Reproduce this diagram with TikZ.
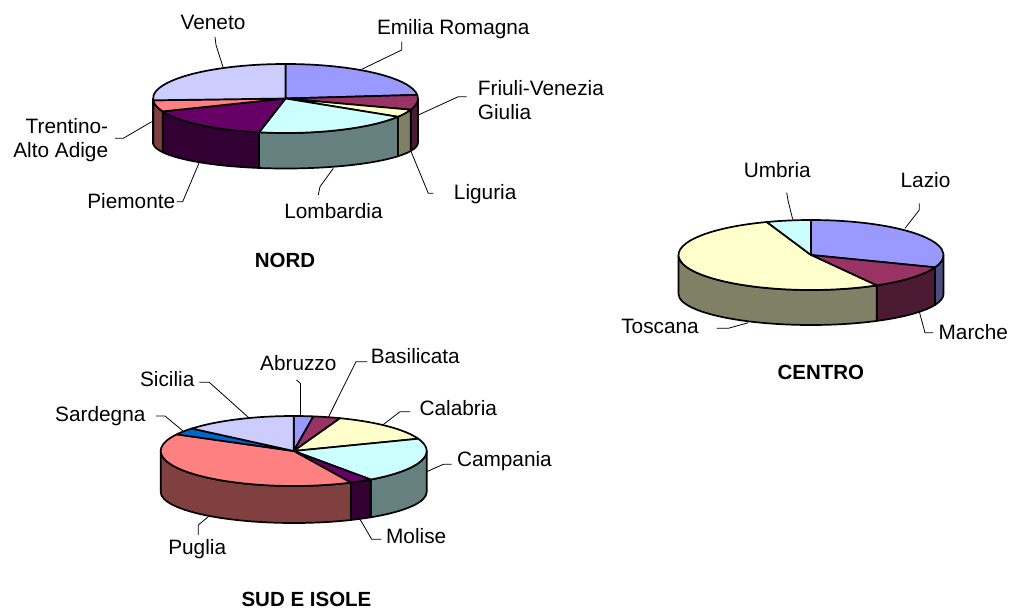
\documentclass[tikz,border=0pt]{standalone}
\usepackage{fontspec}
\setmainfont{Liberation Sans}
\usetikzlibrary{calc}
\definecolor{cA}{HTML}{9999FF}\definecolor{cAs}{HTML}{4D4D80}
\definecolor{cB}{HTML}{993366}\definecolor{cBs}{HTML}{4D1A33}
\definecolor{cC}{HTML}{FFFFCC}\definecolor{cCs}{HTML}{808066}
\definecolor{cD}{HTML}{CCFFFF}\definecolor{cDs}{HTML}{668080}
\definecolor{cE}{HTML}{660066}\definecolor{cEs}{HTML}{330033}
\definecolor{cF}{HTML}{FF8080}\definecolor{cFs}{HTML}{804040}
\definecolor{cG}{HTML}{0066CC}\definecolor{cGs}{HTML}{003366}
\definecolor{cH}{HTML}{CCCCFF}\definecolor{cHs}{HTML}{666680}
\tikzset{
  pieline/.style={draw=black,line width=1.7pt,line join=round},
  leader/.style={draw=black,line width=0.8pt},
  lbl/.style={font=\fontsize{20.8}{24.2}\selectfont,inner sep=0pt},
  ttl/.style={font=\fontsize{20.5}{24}\selectfont\bfseries,inner sep=0pt}
}
% top of a slice: angles #1..#2 (counter-clockwise), colour #3
\newcommand\pietop[3]{\filldraw[pieline,fill=#3] (0,0) -- (#1:\PRx pt and \PRy pt)
  arc[start angle=#1,end angle=#2,x radius=\PRx pt,y radius=\PRy pt] -- cycle;}
% visible side wall between angles #1..#2 (within 180..360), colour #3
\newcommand\pieside[3]{\filldraw[pieline,fill=#3] (#1:\PRx pt and \PRy pt)
  arc[start angle=#1,end angle=#2,x radius=\PRx pt,y radius=\PRy pt]
  -- ($(0pt,-\PHb pt)+(#2:\PRx pt and \PRyb pt)$)
  arc[start angle=#2,end angle=#1,x radius=\PRx pt,y radius=\PRyb pt] -- cycle;}
\begin{document}
\begin{tikzpicture}[x=1pt,y=-1pt]
\path[use as bounding box,fill=white] (0,0) rectangle (1011,610);

% ---------------- NORD ----------------
\def\PRx{132.5}\def\PRy{34.5}\def\PHb{44}\def\PRyb{26}
\begin{scope}[shift={(285.5,98.5)}]
  \pieside{341}{360}{cBs}
  \pieside{328}{341}{cCs}
  \pieside{258.5}{328}{cDs}
  \pieside{202}{258.5}{cEs}
  \pieside{183}{202}{cFs}
  \pieside{180}{183}{cHs}
  \pietop{6}{90}{cA}
  \pietop{-19}{6}{cB}
  \pietop{-32}{-19}{cC}
  \pietop{-101.5}{-32}{cD}
  \pietop{-158}{-101.5}{cE}
  \pietop{183}{202}{cF}
  \pietop{90}{183}{cH}
\end{scope}
\node[lbl,anchor=base] (veneto) at (213,29.3) {Veneto};
\node[lbl,anchor=north east,align=right] (trentino) at (108.3,117.8) {Trentino-\\Alto Adige};
\node[lbl,anchor=base] (piemonte) at (131.3,208.3) {Piemonte};
\node[lbl,anchor=base] (lombardia) at (333.5,218.3) {Lombardia};
\node[lbl,anchor=base] (emilia) at (453.3,35) {Emilia Romagna};
\node[lbl,anchor=north west,align=left] (friuli) at (477.7,80.1) {Friuli-Venezia\\Giulia};
\node[lbl,anchor=base] (liguria) at (485.2,199.5) {Liguria};
\node[ttl,anchor=base] (nord) at (285,267.3) {NORD};

\coordinate (ve1) at (215,37);   \coordinate (ve2) at (216,45);    \coordinate (ve3) at (223,67);
\coordinate (tr1) at (115,138.3);\coordinate (tr2) at (123.3,138.3);\coordinate (tr3) at (151.7,121.7);
\coordinate (pi1) at (176.7,201.7);\coordinate (pi2) at (182.7,201.7);\coordinate (pi3) at (199.3,162.3);
\coordinate (lo1) at (318.3,195);\coordinate (lo2) at (320,186.7);\coordinate (lo3) at (333.3,168.3);
\coordinate (em1) at (401.7,41.7);\coordinate (em2) at (401.7,50);\coordinate (em3) at (361.7,69.3);
\coordinate (fr1) at (466.7,96.7);\coordinate (fr2) at (458.3,96.7);\coordinate (fr3) at (418.3,115);
\coordinate (li1) at (433.3,193.3);\coordinate (li2) at (428.3,193.3);\coordinate (li3) at (410,149);
\draw[leader] (ve1) -- (ve2) -- (ve3);
\draw[leader] (tr1) -- (tr2) -- (tr3);
\draw[leader] (pi1) -- (pi2) -- (pi3);
\draw[leader] (lo1) -- (lo2) -- (lo3);
\draw[leader] (em1) -- (em2) -- (em3);
\draw[leader] (fr1) -- (fr2) -- (fr3);
\draw[leader] (li1) -- (li2) -- (li3);

% ---------------- CENTRO ----------------
\def\PRx{132.5}\def\PRy{35}\def\PHb{39}\def\PRyb{31}
\begin{scope}[shift={(811,255)}]
  \pieside{339.4}{360}{cAs}
  \pieside{299.7}{339.4}{cBs}
  \pieside{180}{299.7}{cCs}
  \pietop{-20.6}{90}{cA}
  \pietop{-60.3}{-20.6}{cB}
  \pietop{109.5}{299.7}{cC}
  \pietop{90}{109.5}{cD}
\end{scope}
\node[lbl,anchor=base] (umbria) at (777.3,177.3) {Umbria};
\node[lbl,anchor=base] (lazio) at (925.5,187.7) {Lazio};
\node[lbl,anchor=base] (marche) at (973.3,339.3) {Marche};
\node[lbl,anchor=base] (toscana) at (660,333.3) {Toscana};
\node[ttl,anchor=base] (centro) at (820.8,379.3) {CENTRO};

\coordinate (um1) at (786.7,192.7);\coordinate (um2) at (788.3,201.7);\coordinate (um3) at (792.7,219.3);
\coordinate (la1) at (919.3,203.3);\coordinate (la2) at (919.3,210);\coordinate (la3) at (905,228.3);
\coordinate (ma1) at (933.3,332.7);\coordinate (ma2) at (925,332.7);\coordinate (ma3) at (919.3,311.7);
\coordinate (to1) at (716.7,328.3);\coordinate (to2) at (728.3,328.3);\coordinate (to3) at (748.3,322.7);
\draw[leader] (um1) -- (um2) -- (um3);
\draw[leader] (la1) -- (la2) -- (la3);
\draw[leader] (ma1) -- (ma2) -- (ma3);
\draw[leader] (to1) -- (to2) -- (to3);

% ---------------- SUD E ISOLE ----------------
\def\PRx{133}\def\PRy{35}\def\PHb{41}\def\PRyb{31}
\begin{scope}[shift={(293.7,451)}]
  \pieside{305.4}{360}{cDs}
  \pieside{295.5}{305.4}{cEs}
  \pieside{180}{295.5}{cFs}
  \pietop{81.5}{90}{cA}
  \pietop{69.6}{81.5}{cB}
  \pietop{20.5}{69.6}{cC}
  \pietop{-54.6}{20.5}{cD}
  \pietop{-64.5}{-54.6}{cE}
  \pietop{151.6}{295.5}{cF}
  \pietop{140}{151.6}{cG}
  \pietop{90}{140}{cH}
\end{scope}
\node[lbl,anchor=base] (sicilia) at (167.2,386.7) {Sicilia};
\node[lbl,anchor=base] (sardegna) at (100.3,421.7) {Sardegna};
\node[lbl,anchor=base] (puglia) at (197.2,554.3) {Puglia};
\node[lbl,anchor=base] (abruzzo) at (298.3,370) {Abruzzo};
\node[lbl,anchor=base] (basilicata) at (415.3,363.3) {Basilicata};
\node[lbl,anchor=base] (calabria) at (458.3,415.7) {Calabria};
\node[lbl,anchor=base] (campania) at (504.4,466.7) {Campania};
\node[lbl,anchor=base] (molise) at (416.2,543.3) {Molise};
\node[ttl,anchor=base] (sud) at (306.5,606) {SUD E ISOLE};

\coordinate (si1) at (199.3,382.3);\coordinate (si2) at (209.3,382.3);\coordinate (si3) at (248.3,417.3);
\coordinate (sa1) at (156,416);\coordinate (sa2) at (165,416);\coordinate (sa3) at (182.7,430.7);
\coordinate (pu1) at (198.3,535);\coordinate (pu2) at (198.3,525);\coordinate (pu3) at (208.3,516.7);
\coordinate (ab1) at (296.5,380);\coordinate (ab2) at (300.5,383.5);\coordinate (ab3) at (300.5,417);
\coordinate (ba1) at (367.3,361.7);\coordinate (ba2) at (356,361.7);\coordinate (ba3) at (328.3,417.3);
\coordinate (ca1) at (410,411.7);\coordinate (ca2) at (400,411.7);\coordinate (ca3) at (382.7,425);
\coordinate (cp1) at (451.7,464.3);\coordinate (cp2) at (443.3,464.3);\coordinate (cp3) at (426.7,471.7);
\coordinate (mo1) at (381,539.3);\coordinate (mo2) at (371.7,539.3);\coordinate (mo3) at (360,519.3);
\draw[leader] (si1) -- (si2) -- (si3);
\draw[leader] (sa1) -- (sa2) -- (sa3);
\draw[leader] (pu1) -- (pu2) -- (pu3);
\draw[leader] (ab1) -- (ab2) -- (ab3);
\draw[leader] (ba1) -- (ba2) -- (ba3);
\draw[leader] (ca1) -- (ca2) -- (ca3);
\draw[leader] (cp1) -- (cp2) -- (cp3);
\draw[leader] (mo1) -- (mo2) -- (mo3);
\end{tikzpicture}
\end{document}
